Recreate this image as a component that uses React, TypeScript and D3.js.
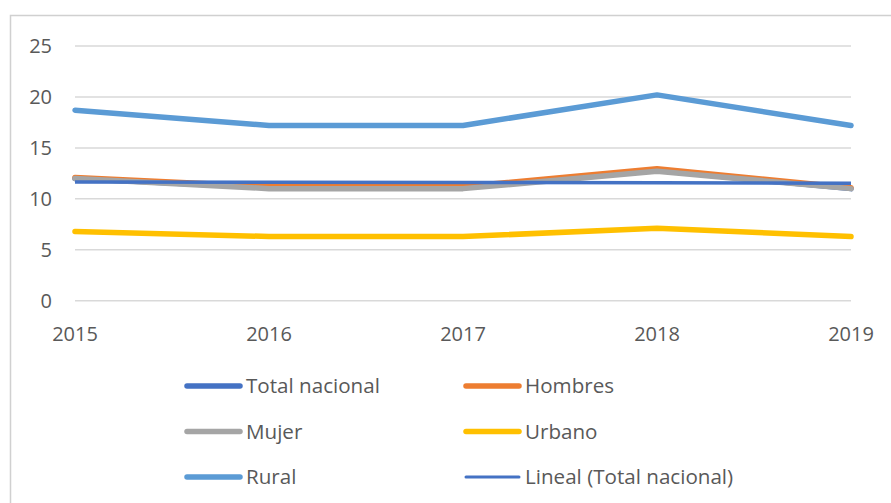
import React from 'react';
import * as d3 from 'd3';

const years = ['2015', '2016', '2017', '2018', '2019'];
const totalNacional = [12.0, 11.1, 11.1, 12.8, 11.0];
const hombres = [12.1, 11.2, 11.2, 12.95, 11.1];
const mujer = [12.0, 11.0, 11.0, 12.7, 11.0];
const urbano = [6.8, 6.3, 6.3, 7.1, 6.3];
const rural = [18.7, 17.2, 17.2, 20.2, 17.2];
const yTicks = [0, 5, 10, 15, 20, 25];

const series = [
  { name: 'Total nacional', values: totalNacional, color: '#4472C4' },
  { name: 'Hombres', values: hombres, color: '#ED7D31' },
  { name: 'Mujer', values: mujer, color: '#A5A5A5' },
  { name: 'Urbano', values: urbano, color: '#FFC000' },
  { name: 'Rural', values: rural, color: '#5B9BD5' },
];

// least squares trend of the national total
function trend(values: number[]) {
  const xs = values.map((_, i) => i);
  const mx = d3.mean(xs) as number;
  const my = d3.mean(values) as number;
  const num = d3.sum(xs, (x, i) => (x - mx) * (values[i] - my));
  const den = d3.sum(xs, (x) => (x - mx) * (x - mx));
  const slope = num / den;
  return xs.map((x) => my + slope * (x - mx));
}

const App = () => {
  const width = 891,
    height = 503;
  const font = '"Open Sans", sans-serif';
  const textColor = '#595959';

  const x = d3.scalePoint<string>().domain(years).range([75, 851]);
  const y = d3.scaleLinear().domain([0, 25]).range([300.7, 46]);

  const line = d3
    .line<number>()
    .x((_, i) => x(years[i]) as number)
    .y((d) => y(d));

  const trendValues = trend(totalNacional);

  const legend = [
    ...series.map((s) => ({ name: s.name, color: s.color, w: 5.5 })),
    { name: 'Lineal (Total nacional)', color: '#4472C4', w: 3 },
  ];

  return (
    <svg
      width={width}
      height={height}
      style={{ position: 'absolute', left: 0, top: 0, background: '#fff' }}
    >
      {/* chart frame */}
      <path d={`M10.5,${height} V15.5 H${width}`} fill="none" stroke="#D0D0D0" strokeWidth={1.5} />

      {yTicks.map((t) => (
        <g key={t}>
          <line x1={75} x2={851} y1={y(t)} y2={y(t)} stroke="#D9D9D9" strokeWidth={1.5} />
          <text
            x={52}
            y={y(t) + 7}
            textAnchor="end"
            fontFamily={font}
            fontSize={20}
            fill={textColor}
          >
            {t}
          </text>
        </g>
      ))}

      {years.map((yr) => (
        <text
          key={yr}
          x={x(yr)}
          y={341}
          textAnchor="middle"
          fontFamily={font}
          fontSize={20}
          fill={textColor}
        >
          {yr}
        </text>
      ))}

      {series.map((s) => (
        <path
          key={s.name}
          d={line(s.values) as string}
          fill="none"
          stroke={s.color}
          strokeWidth={5.5}
          strokeLinejoin="round"
          strokeLinecap="round"
        />
      ))}
      <path
        d={line(trendValues) as string}
        fill="none"
        stroke="#4472C4"
        strokeWidth={3.5}
      />

      {legend.map((l, i) => {
        const col = i % 2;
        const row = Math.floor(i / 2);
        const lx = col === 0 ? 187 : 466;
        const ly = 386 + row * 45.5;
        return (
          <g key={l.name}>
            <line
              x1={lx}
              x2={lx + 53}
              y1={ly}
              y2={ly}
              stroke={l.color}
              strokeWidth={l.w}
              strokeLinecap="round"
            />
            <text
              x={lx + 59}
              y={ly + 7}
              fontFamily={font}
              fontSize={20.6}
              fill={textColor}
            >
              {l.name}
            </text>
          </g>
        );
      })}
    </svg>
  );
};

export default App;
